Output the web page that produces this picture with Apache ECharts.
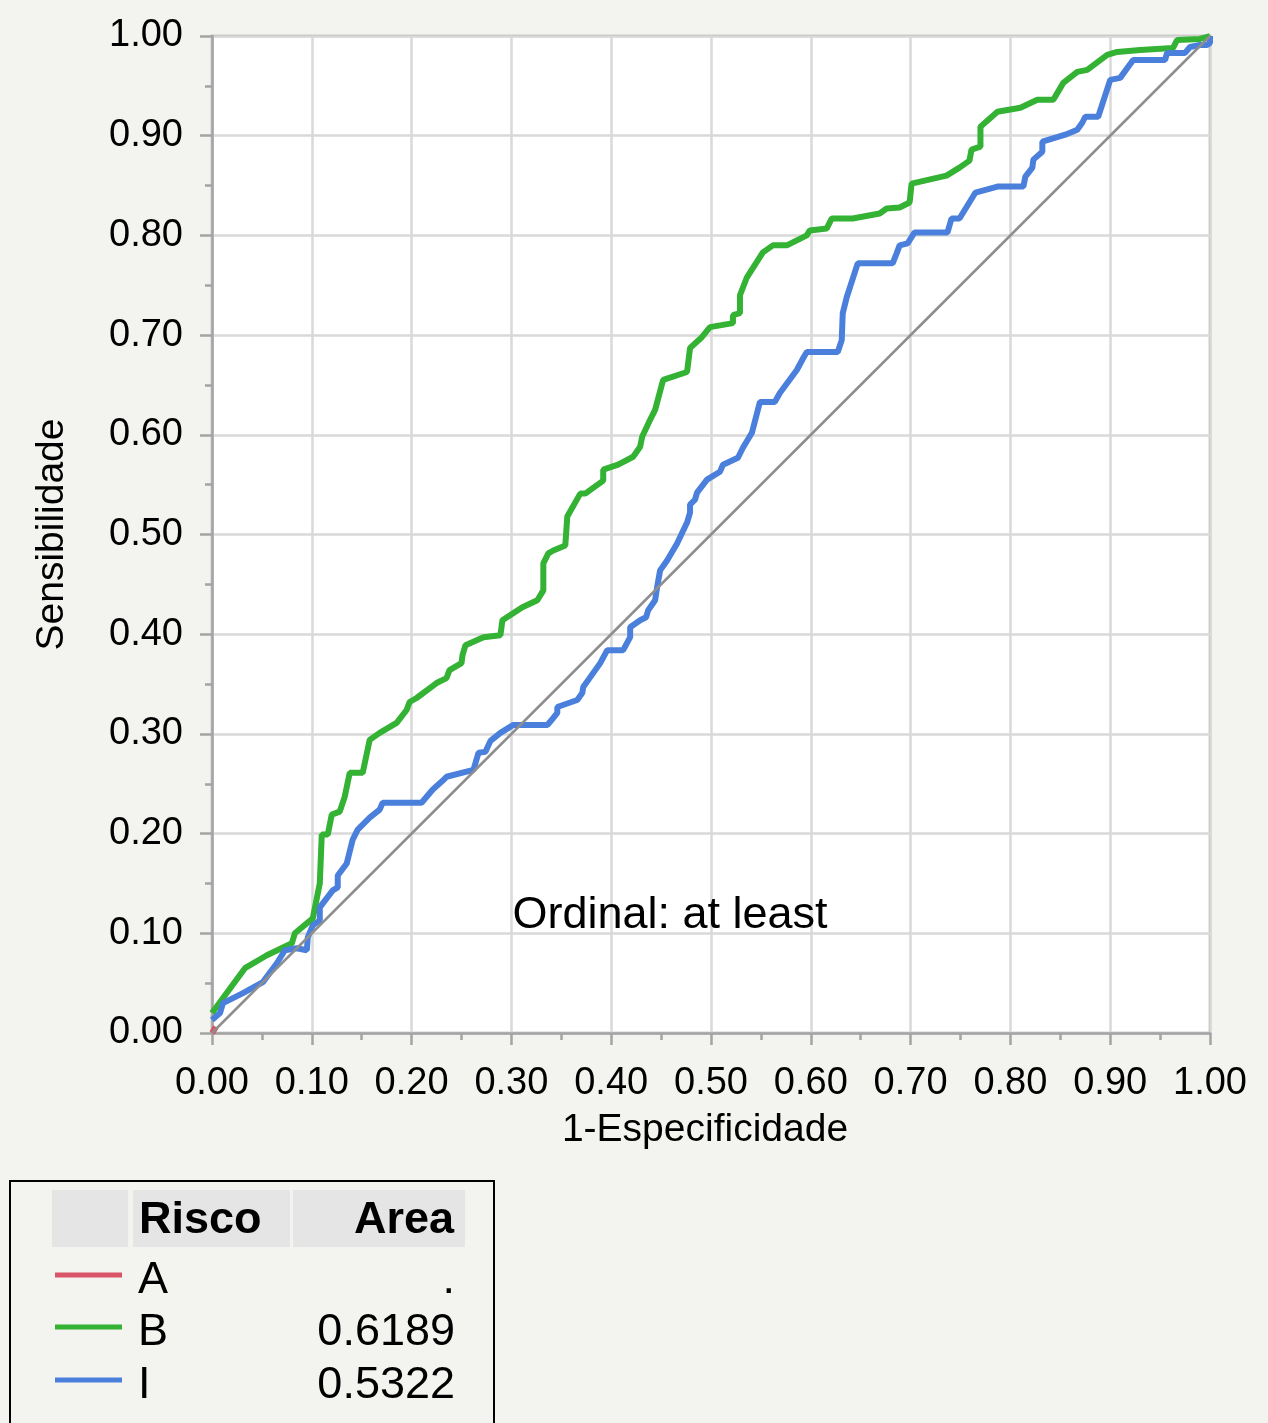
<!DOCTYPE html>
<html>
<head>
<meta charset="utf-8">
<script src="https://cdn.jsdelivr.net/npm/echarts@6/dist/echarts.min.js"></script>
<style>
html,body{margin:0;padding:0;background:#f3f3ef;}
#chart{width:1268px;height:1423px;}
</style>
</head>
<body>
<div id="chart"></div>
<script>
// ---- Data ----
const xTickLabels = ['0.00','0.10','0.20','0.30','0.40','0.50','0.60','0.70','0.80','0.90','1.00'];
const yTickLabels = ['0.00','0.10','0.20','0.30','0.40','0.50','0.60','0.70','0.80','0.90','1.00'];

const seriesNames = ['A', 'B', 'I'];
const areaValues = ['.', '0.6189', '0.5322'];

const rocA = [[0,0],[0.004,0.006]];

const rocB = [
[0,0.02],[0.033,0.065],[0.055,0.078],[0.08,0.09],[0.083,0.10],[0.101,0.115],[0.108,0.15],[0.11,0.199],
[0.116,0.199],[0.12,0.219],[0.128,0.222],[0.133,0.237],[0.138,0.261],[0.151,0.261],[0.158,0.294],[0.168,0.301],
[0.185,0.311],[0.195,0.324],[0.198,0.332],[0.205,0.336],[0.225,0.351],[0.235,0.356],[0.238,0.364],[0.25,0.371],
[0.251,0.379],[0.254,0.389],[0.272,0.397],[0.289,0.399],[0.291,0.414],[0.311,0.427],[0.326,0.434],[0.332,0.444],
[0.332,0.471],[0.337,0.481],[0.342,0.484],[0.354,0.489],[0.356,0.518],[0.369,0.541],[0.374,0.541],[0.392,0.554],
[0.392,0.565],[0.407,0.57],[0.422,0.578],[0.429,0.588],[0.431,0.598],[0.439,0.615],[0.444,0.625],[0.452,0.655],
[0.476,0.663],[0.479,0.687],[0.49,0.697],[0.499,0.708],[0.522,0.712],[0.522,0.72],[0.529,0.722],[0.529,0.74],
[0.536,0.758],[0.552,0.783],[0.562,0.79],[0.576,0.79],[0.596,0.80],[0.599,0.805],[0.616,0.807],[0.621,0.817],
[0.642,0.817],[0.669,0.822],[0.676,0.827],[0.689,0.828],[0.699,0.833],[0.701,0.852],[0.736,0.86],[0.749,0.868],
[0.759,0.875],[0.761,0.886],[0.77,0.889],[0.77,0.909],[0.787,0.924],[0.81,0.928],[0.827,0.936],[0.843,0.936],
[0.853,0.953],[0.867,0.964],[0.877,0.966],[0.897,0.981],[0.907,0.984],[0.93,0.986],[0.963,0.988],[0.967,0.996],
[0.99,0.997],[1,1]
];

const rocI = [
[0,0.013],[0.008,0.02],[0.011,0.03],[0.031,0.04],[0.051,0.051],[0.065,0.07],[0.073,0.083],[0.085,0.085],
[0.095,0.083],[0.096,0.096],[0.101,0.108],[0.108,0.113],[0.108,0.126],[0.121,0.143],[0.126,0.146],[0.126,0.158],
[0.135,0.17],[0.141,0.194],[0.146,0.204],[0.158,0.216],[0.168,0.224],[0.171,0.231],[0.21,0.231],[0.221,0.244],
[0.231,0.253],[0.235,0.257],[0.262,0.264],[0.267,0.281],[0.274,0.282],[0.279,0.293],[0.289,0.301],[0.302,0.309],
[0.336,0.309],[0.342,0.316],[0.346,0.321],[0.346,0.327],[0.366,0.334],[0.371,0.341],[0.372,0.347],[0.389,0.371],
[0.396,0.384],[0.412,0.384],[0.419,0.397],[0.419,0.407],[0.429,0.414],[0.435,0.417],[0.437,0.424],[0.444,0.434],
[0.446,0.447],[0.449,0.464],[0.456,0.474],[0.466,0.491],[0.476,0.512],[0.479,0.522],[0.479,0.53],[0.484,0.535],
[0.486,0.542],[0.496,0.555],[0.509,0.563],[0.512,0.57],[0.527,0.577],[0.532,0.587],[0.541,0.602],[0.549,0.633],
[0.564,0.633],[0.569,0.642],[0.586,0.665],[0.593,0.678],[0.596,0.683],[0.627,0.683],[0.631,0.695],[0.632,0.722],
[0.636,0.738],[0.647,0.772],[0.682,0.772],[0.686,0.782],[0.689,0.79],[0.697,0.792],[0.704,0.803],[0.737,0.803],
[0.741,0.817],[0.749,0.817],[0.765,0.843],[0.787,0.849],[0.813,0.849],[0.815,0.859],[0.822,0.868],[0.823,0.876],
[0.832,0.884],[0.832,0.894],[0.855,0.901],[0.867,0.906],[0.872,0.913],[0.875,0.919],[0.888,0.919],[0.9,0.956],
[0.91,0.958],[0.923,0.976],[0.955,0.976],[0.957,0.983],[0.975,0.983],[0.98,0.989],[0.99,0.991],[0.997,0.991],
[1,0.993],[1,1]
];

const diagonal = [[0,0],[1,1]];

// ---- Styles ----
const FONT = '"Liberation Sans", Arial, Helvetica, sans-serif';
const colors = ['#d95466', '#33b233', '#4a80dc'];
const axisGray = '#a4a4a4';

const chart = echarts.init(document.getElementById('chart'), null, {renderer: 'canvas'});

function fmt(labels) {
  return function (v) { const i = Math.round(v * 10); return labels[i] !== undefined ? labels[i] : ''; };
}

function axisCommon(labels, margin) {
  return {
    type: 'value', min: 0, max: 1, interval: 0.1,
    axisLine: {show: true, lineStyle: {color: axisGray, width: 2.5}},
    axisTick: {show: true, inside: false, length: 12, lineStyle: {color: axisGray, width: 2.5}},
    minorTick: {show: true, splitNumber: 2, length: 7, lineStyle: {color: axisGray, width: 2.5}},
    splitLine: {show: true, lineStyle: {color: '#d9d9d9', width: 2.5}},
    axisLabel: {formatter: fmt(labels), color: '#000', fontSize: 38, fontFamily: FONT, margin: margin},
    nameTextStyle: {color: '#000', fontSize: 39, fontFamily: FONT},
    nameLocation: 'middle'
  };
}

// legend table (graphic)
const legendGraphics = [];
legendGraphics.push({type: 'rect', shape: {x: 10, y: 1181, width: 484, height: 280},
  style: {fill: '#f3f3ef', stroke: '#000', lineWidth: 2}, z: 10});
legendGraphics.push({type: 'rect', shape: {x: 52, y: 1190, width: 76, height: 57}, style: {fill: '#e5e5e5'}, z: 11});
legendGraphics.push({type: 'rect', shape: {x: 133, y: 1190, width: 157, height: 57}, style: {fill: '#e5e5e5'}, z: 11});
legendGraphics.push({type: 'rect', shape: {x: 293, y: 1190, width: 172, height: 57}, style: {fill: '#e5e5e5'}, z: 11});
legendGraphics.push({type: 'text', x: 139, y: 1221, style: {text: 'Risco', fill: '#000', font: 'bold 45px ' + FONT,
  textAlign: 'left', textVerticalAlign: 'middle'}, z: 12});
legendGraphics.push({type: 'text', x: 454, y: 1221, style: {text: 'Area', fill: '#000', font: 'bold 45px ' + FONT,
  textAlign: 'right', textVerticalAlign: 'middle'}, z: 12});
const rowY = [1281, 1333, 1386];
seriesNames.forEach(function (n, i) {
  legendGraphics.push({type: 'line', shape: {x1: 55, y1: rowY[i] - 6, x2: 122, y2: rowY[i] - 6},
    style: {stroke: colors[i], lineWidth: 5}, z: 12});
  legendGraphics.push({type: 'text', x: 138, y: rowY[i], style: {text: n, fill: '#000', font: '45px ' + FONT,
    textAlign: 'left', textVerticalAlign: 'middle'}, z: 12});
  legendGraphics.push({type: 'text', x: 455, y: rowY[i], style: {text: areaValues[i], fill: '#000', font: '45px ' + FONT,
    textAlign: 'right', textVerticalAlign: 'middle'}, z: 12});
});
// annotation
legendGraphics.push({type: 'text', x: 670, y: 916, style: {text: 'Ordinal: at least', fill: '#000', font: '45px ' + FONT,
  textAlign: 'center', textVerticalAlign: 'middle'}, z: 12});

const option = {
  backgroundColor: '#f3f3ef',
  animation: false,
  grid: {left: 212, right: 58, top: 36, bottom: 390, show: true, backgroundColor: '#ffffff',
    borderColor: axisGray, borderWidth: 2.5, containLabel: false, outerBoundsMode: 'none'},
  xAxis: Object.assign(axisCommon(xTickLabels, 32), {name: '1-Especificidade', nameGap: 78}),
  yAxis: Object.assign(axisCommon(yTickLabels, 29), {name: 'Sensibilidade', nameGap: 140, nameRotate: 90}),
  series: [
    {name: 'A', type: 'line', data: rocA, showSymbol: false, lineStyle: {color: colors[0], width: 6}, z: 3},
    {name: 'B', type: 'line', data: rocB, showSymbol: false, lineStyle: {color: colors[1], width: 6}, z: 3},
    {name: 'I', type: 'line', data: rocI, showSymbol: false, lineStyle: {color: colors[2], width: 6}, z: 4},
    {name: 'diag', type: 'line', data: diagonal, showSymbol: false, lineStyle: {color: '#8e8e8e', width: 2.5}, z: 5}
  ],
  graphic: legendGraphics
};
option.xAxis.nameTextStyle = Object.assign({}, option.xAxis.nameTextStyle, {padding: [0, 12, 0, 0]});
chart.setOption(option);
</script>
</body>
</html>
